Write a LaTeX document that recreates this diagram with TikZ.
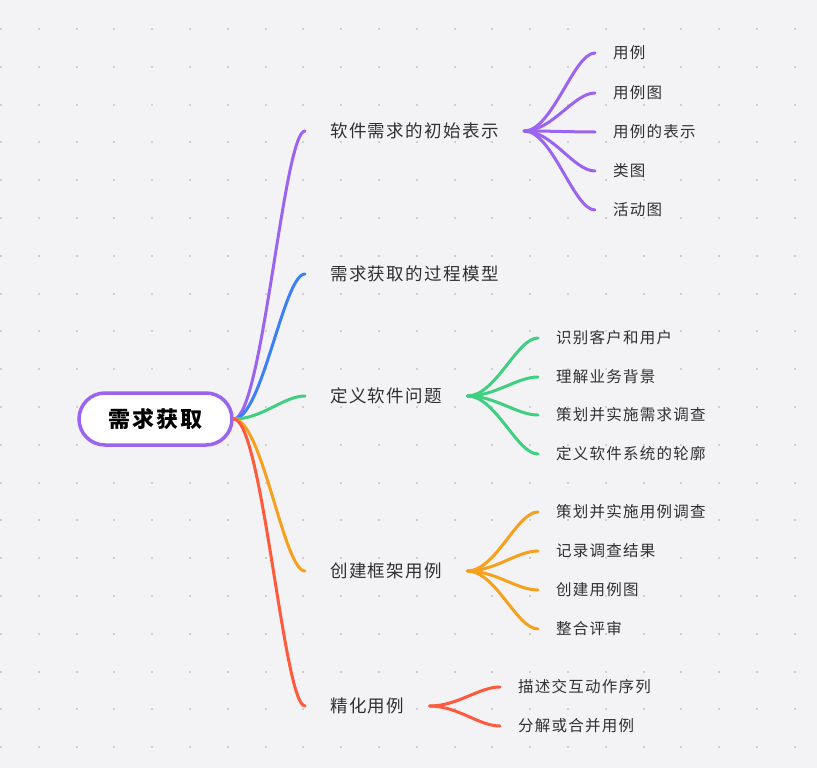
\documentclass[tikz,border=0pt]{standalone}
\usepackage{fontspec}
\newfontfamily\cjk[LetterSpace=8]{Noto Sans CJK SC}
\newfontfamily\cjkroot[LetterSpace=9]{Noto Sans CJK SC}
\usepackage{xcolor}
\usepackage{tikz}
\usetikzlibrary{positioning, calc}

\definecolor{bgcol}{HTML}{F3F3F5}
\definecolor{dotcol}{HTML}{CFCFD4}
\definecolor{txtcol}{HTML}{303030}
\definecolor{cpurple}{HTML}{9B64F0}
\definecolor{cblue}{HTML}{3D80F5}
\definecolor{cgreen}{HTML}{3ECF80}
\definecolor{corange}{HTML}{F7A01E}
\definecolor{cred}{HTML}{FF5A3C}

\begin{document}
\begin{tikzpicture}[
      x=1pt, y=-1pt,
      rootbox/.style={draw=cpurple, line width=3.5pt, fill=white, rounded corners=26pt,
        minimum width=153pt, minimum height=52pt, font=\cjkroot\bfseries\fontsize{22}{25}\selectfont, text=black},
      topic/.style={anchor=west, inner xsep=25pt, inner ysep=0pt, text=txtcol,
        font=\cjk\fontsize{17.5}{20}\selectfont},
      leaf/.style={anchor=west, inner xsep=18pt, inner ysep=0pt, text=txtcol,
        font=\cjk\fontsize{15.5}{18}\selectfont},
      branch/.style={line width=3pt, line cap=round,
        to path={let \p1=(\tikztostart), \p2=(\tikztotarget) in
          .. controls (0.6*\x1+0.4*\x2, \y1) and (0.3*\x1+0.7*\x2, \y2) .. (\tikztotarget)}}
    ]
      % background with dot grid
      \fill[bgcol] (0,0) rectangle (817,768);
      \foreach \i in {0,...,21}
        \foreach \j in {0,...,19}
          \fill[dotcol] (1+37.8*\i-1, 29+37.8*\j-1) rectangle ++(2,2);

      % nodes
      \node[rootbox] (root) at (155.5,419) {需求获取};

      \node[topic] (t1) at (305,131) {软件需求的初始表示};
      \node[topic] (t2) at (305,274) {需求获取的过程模型};
      \node[topic] (t3) at (305,396) {定义软件问题};
      \node[topic] (t4) at (305,571) {创建框架用例};
      \node[topic] (t5) at (305,706) {精化用例};

      \node[leaf] (t1a) at (595,53) {用例};
      \node[leaf] (t1b) at (595,93) {用例图};
      \node[leaf] (t1c) at (595,132) {用例的表示};
      \node[leaf] (t1d) at (595,171) {类图};
      \node[leaf] (t1e) at (595,210) {活动图};

      \node[leaf] (t3a) at (538,338) {识别客户和用户};
      \node[leaf] (t3b) at (538,377) {理解业务背景};
      \node[leaf] (t3c) at (538,415) {策划并实施需求调查};
      \node[leaf] (t3d) at (538,454) {定义软件系统的轮廓};

      \node[leaf] (t4a) at (538,512) {策划并实施用例调查};
      \node[leaf] (t4b) at (538,551) {记录调查结果};
      \node[leaf] (t4c) at (538,590) {创建用例图};
      \node[leaf] (t4d) at (538,629) {整合评审};

      \node[leaf] (t5a) at (500,687) {描述交互动作序列};
      \node[leaf] (t5b) at (500,726) {分解或合并用例};

      % connectors
      \draw[branch, cpurple] (root.east) to (t1.west);
      \draw[branch, cblue] (root.east) to (t2.west);
      \draw[branch, cgreen] (root.east) to (t3.west);
      \draw[branch, corange] (root.east) to (t4.west);
      \draw[branch, cred] (root.east) to (t5.west);

      \foreach \leafname in {t1a,t1b,t1c,t1d,t1e}
        \draw[branch, cpurple] (t1.east) to (\leafname.west);
      \foreach \leafname in {t3a,t3b,t3c,t3d}
        \draw[branch, cgreen] (t3.east) to (\leafname.west);
      \foreach \leafname in {t4a,t4b,t4c,t4d}
        \draw[branch, corange] (t4.east) to (\leafname.west);
      \foreach \leafname in {t5a,t5b}
        \draw[branch, cred] (t5.east) to (\leafname.west);
    \end{tikzpicture}
\end{document}
